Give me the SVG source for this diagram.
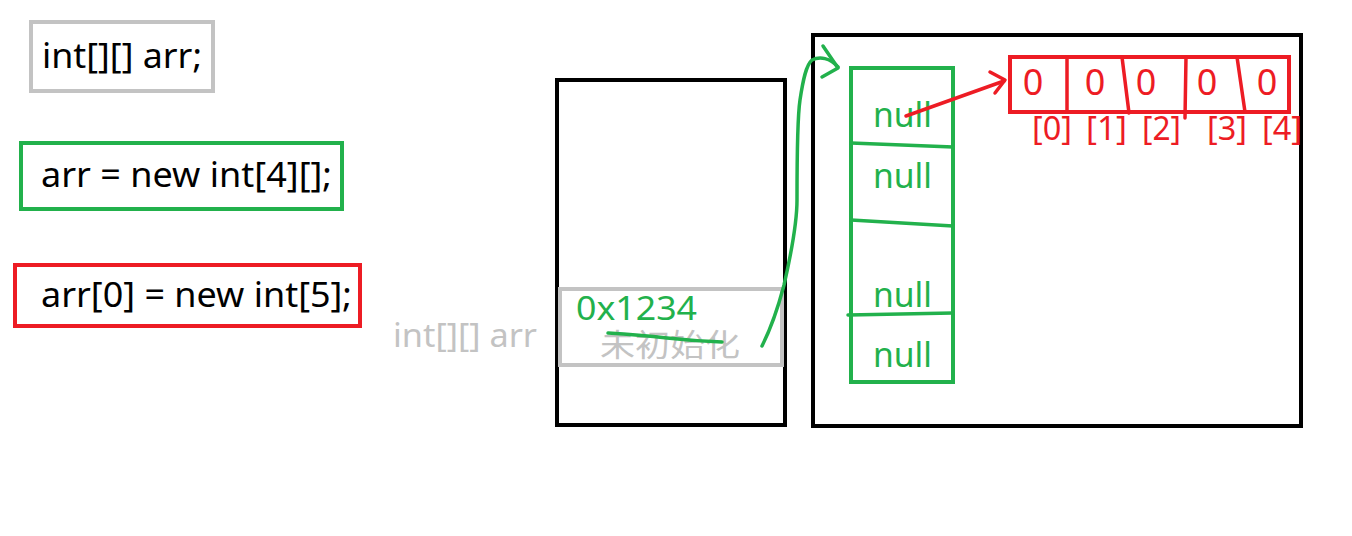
<svg xmlns="http://www.w3.org/2000/svg" width="1352" height="536" viewBox="0 0 1352 536">
<style>
text{font-family:"Noto Sans","Noto Sans CJK SC",sans-serif;}
.code{font-size:34px;fill:#000;}
.g{fill:#22b14c;}
.r{fill:#ed1c24;}
.gr{fill:#c3c3c3;}
.box{fill:none;stroke-width:4;}
.sg{stroke:#22b14c;}
.sr{stroke:#ed1c24;}
.sgr{stroke:#c3c3c3;}
.sb{stroke:#000;}
.ln{fill:none;stroke-width:3.5;stroke-linecap:round;stroke-linejoin:round;}
.idx{font-size:32px;}
</style>
<rect width="1352" height="536" fill="#fff"/>
<g id="code1"><rect class="box sgr" x="31" y="22" width="182" height="69"/><text class="code" x="42" y="68" textLength="160" lengthAdjust="spacingAndGlyphs">int[][] arr;</text></g>
<g id="code2"><rect class="box sg" x="21" y="143" width="321" height="66"/><text class="code" x="41" y="187" textLength="291" lengthAdjust="spacingAndGlyphs">arr = new int[4][];</text></g>
<g id="code3"><rect class="box sr" x="15" y="265" width="345" height="61"/><text class="code" x="41" y="307" textLength="311" lengthAdjust="spacingAndGlyphs">arr[0] = new int[5];</text></g>
<g id="stack">
<rect class="box sb" x="557" y="80" width="228" height="345"/>
<rect class="box sgr" x="560" y="289" width="222" height="76"/>
<text class="gr" x="393" y="347" font-size="33" textLength="144" lengthAdjust="spacingAndGlyphs">int[][] arr</text>
<text class="gr" x="600" y="356" font-size="31" textLength="140" lengthAdjust="spacingAndGlyphs">未初始化</text>
<text class="g" x="576" y="320" font-size="33" textLength="121" lengthAdjust="spacingAndGlyphs">0x1234</text>
<path class="ln sg" stroke-width="4" d="M608,333 Q640,335 667,338 T722,342"/>
</g>
<g id="heap"><rect class="box sb" x="813" y="35" width="488" height="391"/></g>
<g id="outer-array">
<rect class="box sg" x="851" y="68" width="102" height="314"/>
<path class="ln sg" stroke-width="4.5" d="M851,143 L953,147 M851,220 L953,226 M848,315 L953,313"/>
<text class="g" x="873" y="127" font-size="35" textLength="59" lengthAdjust="spacingAndGlyphs">null</text>
<text class="g" x="873" y="188" font-size="35" textLength="59" lengthAdjust="spacingAndGlyphs">null</text>
<text class="g" x="873" y="307" font-size="35" textLength="59" lengthAdjust="spacingAndGlyphs">null</text>
<text class="g" x="873" y="367" font-size="35" textLength="59" lengthAdjust="spacingAndGlyphs">null</text>
</g>
<g id="inner-array">
<rect class="box sr" x="1010" y="57" width="279" height="55"/>
<path class="ln sr" stroke-width="4.5" d="M1067,57 L1067,112 M1122,57 L1129,113 M1186,57 L1185,118 M1237,57 L1245,112"/>
<text class="r" x="1033" y="95" font-size="36" text-anchor="middle">0</text>
<text class="r" x="1095" y="95" font-size="36" text-anchor="middle">0</text>
<text class="r" x="1146" y="95" font-size="36" text-anchor="middle">0</text>
<text class="r" x="1207" y="95" font-size="36" text-anchor="middle">0</text>
<text class="r" x="1267" y="95" font-size="36" text-anchor="middle">0</text>
<text class="r idx" x="1032" y="140" textLength="40" lengthAdjust="spacingAndGlyphs">[0]</text>
<text class="r idx" x="1086" y="140" textLength="41" lengthAdjust="spacingAndGlyphs">[1]</text>
<text class="r idx" x="1142" y="140" textLength="39" lengthAdjust="spacingAndGlyphs">[2]</text>
<text class="r idx" x="1207" y="140" textLength="40" lengthAdjust="spacingAndGlyphs">[3]</text>
<text class="r idx" x="1262" y="140" textLength="40" lengthAdjust="spacingAndGlyphs">[4]</text>
</g>
<g id="connectors">
<path class="ln sg" d="M762,346 C775,320 780,300 784,285 C792,250 797,220 797,200 C797,160 797,120 800,100 C803,80 806,65 812,60 C820,56 830,58 838,67"/>
<path class="ln sg" d="M823,46 L838,68 L822,77"/>
<path class="ln sr" stroke-width="5.5" d="M906,116 L1004,81"/>
<path class="ln sr" stroke-width="4" d="M990,72 L1005,80 L995,93"/>
</g>
</svg>
